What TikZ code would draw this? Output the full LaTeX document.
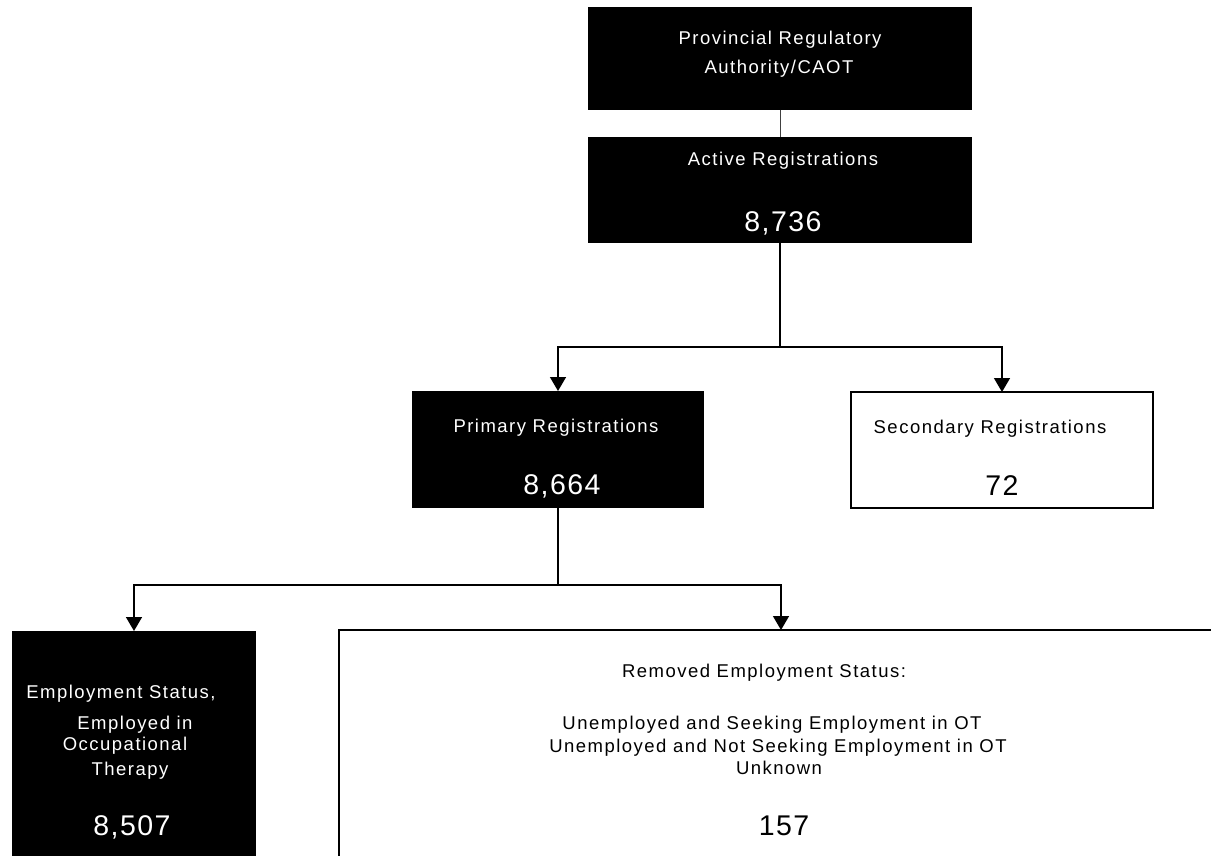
\documentclass[tikz,border=0pt]{standalone}
\usepackage{fontspec}
\usetikzlibrary{arrows.meta}
\newfontfamily\labfont{Liberation Sans}[LetterSpace=8]
\newfontfamily\numfont{Liberation Sans}[LetterSpace=5]
\begin{document}
\begin{tikzpicture}[x=1pt,y=-1pt,
  box/.style={inner sep=0pt,outer sep=0pt,anchor=north west},
  blk/.style={box,fill=black},
  wbox/.style={box,draw=black,line width=1.5pt,fill=white},
  lab/.style={inner sep=0pt,anchor=base,font={\labfont\fontsize{18.5}{22}\selectfont}},
  wlab/.style={lab,text=white},
  num/.style={inner sep=0pt,anchor=base,font={\numfont\fontsize{28.5}{32}\selectfont}},
  wnum/.style={num,text=white},
  conn/.style={line width=1.5pt},
  arr/.style={conn,-{Triangle[width=16pt,length=14pt]}}]
\useasboundingbox (0,0) rectangle (1211,856);
\clip (0,0) rectangle (1211,856);
\fill[white] (0,0) rectangle (1211,856);

% boxes
\node[blk,minimum width=384pt,minimum height=103pt] (b1) at (588,7) {};
\node[blk,minimum width=384pt,minimum height=106pt] (b2) at (588,137) {};
\node[blk,minimum width=292pt,minimum height=117pt] (prim) at (412,391) {};
\node[wbox,minimum width=302pt,minimum height=116pt] (sec) at (851,392) {};
\node[blk,minimum width=244pt,minimum height=269pt] (emp) at (12,631) {};
\node[wbox,minimum width=884pt,minimum height=270pt] (rem) at (339,630) {};

% texts
\node[wlab] (t1a) at (780,45) {Provincial Regulatory};
\node[wlab] (t1b) at (779,74) {Authority/CAOT};
\node[wlab] (t2a) at (783,166) {Active Registrations};
\node[wnum] (t2b) at (783,231) {8,736};
\node[wlab] (tpa) at (556,432) {Primary Registrations};
\node[wnum] (tpb) at (562,494) {8,664};
\node[lab] (tsa) at (990,433) {Secondary Registrations};
\node[num] (tsb) at (1002,495) {72};
\node[wlab] (tea) at (121,698) {Employment Status,};
\node[wlab] (teb) at (135,729) {Employed in};
\node[wlab] (tec) at (125,750) {Occupational};
\node[wlab] (ted) at (130,775) {Therapy};
\node[wnum] (tee) at (132,835) {8,507};
\node[lab] (tra) at (764,677) {Removed Employment Status:};
\node[lab] (trb) at (772,729) {Unemployed and Seeking Employment in OT};
\node[lab] (trc) at (778,752) {Unemployed and Not Seeking Employment in OT};
\node[lab] (trd) at (779,774) {Unknown};
\node[num] (tre) at (784,835) {157};

% connectors
\coordinate (j1) at (780,347);
\coordinate (j2) at (558,585);
\draw[line width=1pt,black!75] (b1.south) -- (b2.north);
\draw[conn] (b2.south) -- (j1);
\draw[arr] (j1) -| (prim.north);
\draw[arr] (j1) -| (sec.north);
\draw[conn] (prim.south) -- (j2);
\draw[arr] (j2) -| (emp.north);
\draw[arr] (j2) -| (rem.north);
\end{tikzpicture}
\end{document}
